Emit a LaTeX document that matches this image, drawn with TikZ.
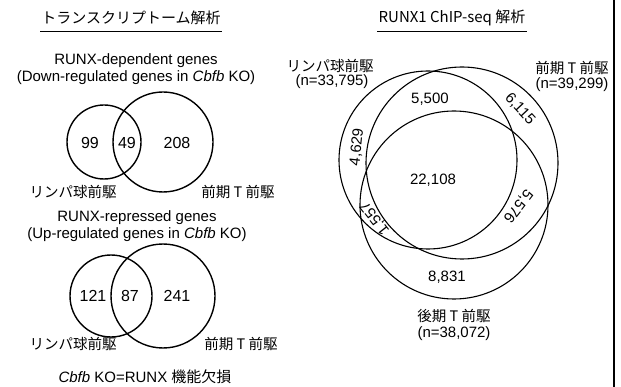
\documentclass[tikz,border=0pt]{standalone}
\usepackage{fontspec}
\setmainfont{Liberation Sans}
\newfontfamily\jp{Noto Sans CJK JP}
\begin{document}
\begin{tikzpicture}[x=1pt,y=-1pt,
  venn/.style={draw, circle, line width=1.4pt, inner sep=0pt},
  rvenn/.style={draw, circle, line width=1.1pt, inner sep=0pt},
  lbl/.style={font=\fontsize{15}{17}\selectfont, inner sep=0pt, align=center},
  jlbl/.style={font=\fontsize{14.5}{16}\jp, inner sep=0pt},
  ttl/.style={font=\fontsize{15}{17}\jp, inner sep=0pt},
  num/.style={font=\fontsize{16}{18}\selectfont, inner sep=0pt},
  rnum/.style={font=\fontsize{15}{17}\selectfont, inner sep=0pt}]
\useasboundingbox (0,0) rectangle (621,387);
\fill[white] (0,0) rectangle (621,387);

% titles
\node[ttl] (t1) at (131,18) {トランスクリプトーム解析};
\coordinate (u1a) at (40,31); \coordinate (u1b) at (222,31);
\draw[line width=0.9pt] (u1a) -- (u1b);
\node[ttl] (t2) at (452,18) {RUNX1 ChIP-seq 解析};
\coordinate (u2a) at (377,31); \coordinate (u2b) at (527,31);
\draw[line width=0.9pt] (u2a) -- (u2b);

% upper left venn
\node[lbl] (h1) at (136,69) {RUNX-dependent genes\\(Down-regulated genes in \textit{Cbfb} KO)};
\node[venn, minimum size=74pt] (c1) at (104,142) {};
\node[venn, minimum size=100pt] (c2) at (163,142) {};
\node[num] (n99) at (90,143) {99};
\node[num] (n49) at (127,143) {49};
\node[num] (n208) at (177,143) {208};
\node[jlbl] (l1) at (73,192) {リンパ球前駆};
\node[jlbl] (l2) at (238,192) {前期 T 前駆};

% lower left venn
\node[lbl] (h2) at (137,226) {RUNX-repressed genes\\(Up-regulated genes in \textit{Cbfb} KO)};
\node[venn, minimum size=82pt] (c3) at (111,296) {};
\node[venn, minimum size=104pt] (c4) at (163,296) {};
\node[num] (n121) at (93,296) {121};
\node[num] (n87) at (130,296) {87};
\node[num] (n241) at (177,296) {241};
\node[jlbl] (l3) at (73,344) {リンパ球前駆};
\node[jlbl] (l4) at (241,344) {前期 T 前駆};
\node[lbl] (foot) at (145,377) {\textit{Cbfb} KO=RUNX {\jp 機能欠損}};

% right venn
\node[rvenn, minimum size=178pt] (A) at (428,160) {};
\node[rvenn, minimum size=192pt] (B) at (462,163) {};
\node[rvenn, minimum size=188pt] (C) at (454,205) {};
\node[jlbl] (la) at (330,66) {リンパ球前駆};
\node[lbl] (na) at (332,82) {(n=33,795)};
\node[jlbl] (lb) at (572,68) {前期 T 前駆};
\node[lbl] (nb) at (572,85) {(n=39,299)};
\node[jlbl] (lc) at (454,316) {後期 T 前駆};
\node[lbl] (nc) at (454,334) {(n=38,072)};
\node[rnum] (r5500) at (430,99) {5,500};
\node[rnum, rotate=-47] (r6115) at (520,109) {6,115};
\node[rnum, rotate=84] (r4629) at (357,147) {4,629};
\node[rnum] (r22108) at (433,180) {22,108};
\node[rnum, rotate=-128] (r5576) at (518,206) {5,576};
\node[rnum, rotate=128] (r1557) at (375,218) {1,557};
\node[rnum] (r8831) at (447,277) {8,831};

% right frame line
\coordinate (fa) at (613.75,0); \coordinate (fb) at (613.75,387);
\draw[line width=2.5pt] (fa) -- (fb);
\end{tikzpicture}
\end{document}
